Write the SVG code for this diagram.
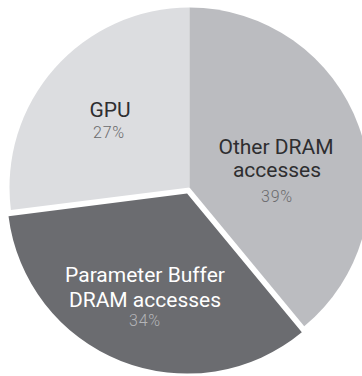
<svg xmlns="http://www.w3.org/2000/svg" width="362" height="376" viewBox="0 0 362 376">
  <style>
    .label { font-family: Roboto, "Open Sans", "Liberation Sans", sans-serif; font-size: 21px; text-anchor: middle; }
    .pct { font-family: Roboto, "Open Sans", "Liberation Sans", sans-serif; font-size: 16px; font-weight: 300; letter-spacing: 0.8px; text-anchor: middle; }
    .dark { fill: #2e2e30; }
    .pct-dark { fill: #6a6a6d; }
    .light { fill: #ffffff; }
    .pct-light { fill: #b4b5b8; }
  </style>
  <rect width="362" height="376" fill="#ffffff"/>

  <!-- pie slices, centre (189.5, 187.5), radius 180 -->
  <g id="gpu">
    <path d="M189.5,187.5 L189.5,7.5 A180,180 0 0 0 10.92,210.06 Z" fill="#dcdde0"/>
    <text class="label dark" x="110" y="116.5">GPU</text>
    <text class="pct pct-dark" x="109" y="137.5">27%</text>
  </g>

  <g id="other-dram">
    <path d="M189.5,187.5 L189.5,7.5 A180,180 0 0 1 304.24,326.19 Z" fill="#bbbcc0"/>
    <text class="label dark" x="276" y="153.5">Other DRAM</text>
    <text class="label dark" x="277" y="177">accesses</text>
    <text class="pct pct-dark" x="277" y="201.5">39%</text>
  </g>

  <!-- exploded slice, pulled out along its bisector -->
  <g id="parameter-buffer">
    <path transform="translate(-2.4,6.1)" d="M189.5,187.5 L304.24,326.19 A180,180 0 0 1 10.92,210.06 Z" fill="#6b6c70"/>
    <text class="label light" x="145" y="281.5">Parameter Buffer</text>
    <text class="label light" x="145" y="306.5">DRAM accesses</text>
    <text class="pct pct-light" x="145" y="326">34%</text>
  </g>
</svg>
